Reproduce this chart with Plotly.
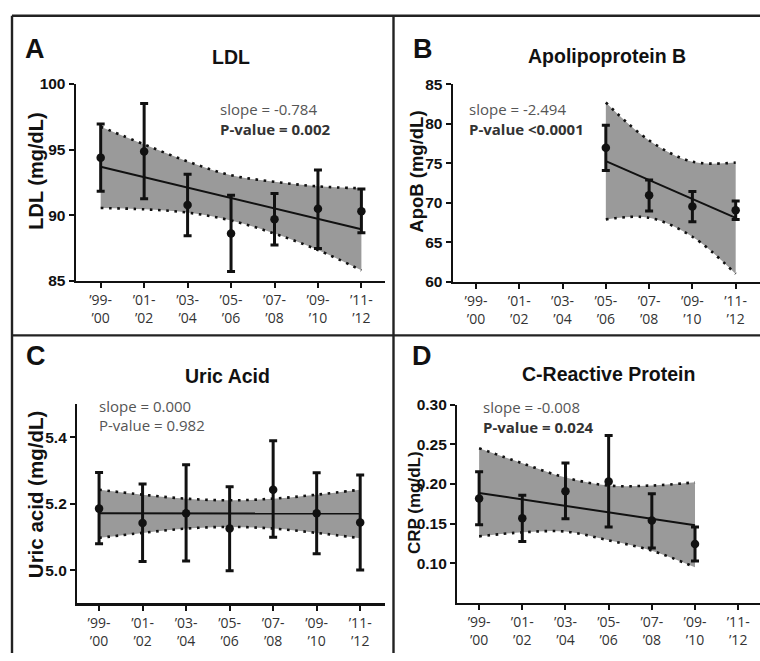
import plotly.graph_objects as go

W, H = 760, 661

# ---------------- data ----------------
cycle_labels = ["’99-<br>’00", "’01-<br>’02", "’03-<br>’04", "’05-<br>’06",
                "’07-<br>’08", "’09-<br>’10", "’11-<br>’12"]
cycle_idx = [0, 1, 2, 3, 4, 5, 6]

# Panel A - LDL (mg/dL)
ldl_x = [0, 1, 2, 3, 4, 5, 6]
ldl_mean = [94.39, 94.86, 90.78, 88.61, 89.70, 90.49, 90.31]
ldl_hi = [96.96, 98.52, 93.13, 91.52, 91.65, 93.45, 91.99]
ldl_lo = [91.82, 91.25, 88.44, 85.72, 87.74, 87.47, 88.66]
ldl_band_hi = [96.75, 95.40, 94.10, 93.05, 92.55, 92.20, 92.05]
ldl_band_lo = [90.55, 90.45, 90.20, 89.60, 88.60, 87.35, 85.80]
ldl_fit_x = [0, 6]
ldl_fit_y = [93.70, 88.93]

# Panel B - ApoB (mg/dL)
apob_x = [3, 4, 5, 6]
apob_mean = [76.97, 70.96, 69.52, 69.07]
apob_hi = [79.81, 72.90, 71.42, 70.22]
apob_lo = [74.09, 68.95, 67.59, 67.88]
apob_band_hi = [82.70, 77.90, 75.20, 75.10]
apob_band_lo = [67.90, 68.10, 65.70, 61.00]
apob_fit_x = [3, 6]
apob_fit_y = [75.28, 68.09]

# Panel C - Uric acid (mg/dL)
uric_x = [0, 1, 2, 3, 4, 5, 6]
uric_mean = [5.185, 5.142, 5.171, 5.125, 5.242, 5.171, 5.143]
uric_hi = [5.294, 5.259, 5.317, 5.251, 5.389, 5.293, 5.286]
uric_lo = [5.079, 5.026, 5.027, 4.998, 5.099, 5.049, 5.000]
uric_band_hi = [5.242, 5.227, 5.215, 5.210, 5.215, 5.227, 5.242]
uric_band_lo = [5.097, 5.112, 5.125, 5.130, 5.125, 5.112, 5.096]
uric_fit_x = [0, 6]
uric_fit_y = [5.171, 5.170]

# Panel D - CRP (mg/dL)
crp_x = [0, 1, 2, 3, 4, 5]
crp_mean = [0.1818, 0.1569, 0.1908, 0.2031, 0.1540, 0.1242]
crp_hi = [0.2153, 0.1859, 0.2264, 0.2611, 0.1875, 0.1458]
crp_lo = [0.1487, 0.1274, 0.1560, 0.1458, 0.1193, 0.1028]
crp_band_hi = [0.245, 0.226, 0.208, 0.198, 0.198, 0.202]
crp_band_lo = [0.134, 0.139, 0.140, 0.129, 0.116, 0.095]
crp_fit_x = [0, 5]
crp_fit_y = [0.1887, 0.1479]

# ---------------- layout helpers ----------------
def px_x(p):
    return p / W

def px_y(p):
    return 1 - p / H

panels = [
    dict(key="", letter="A", title="LDL", ylab="LDL (mg/dL)",
         x=ldl_x, m=ldl_mean, hi=ldl_hi, lo=ldl_lo, bh=ldl_band_hi, bl=ldl_band_lo,
         fx=ldl_fit_x, fy=ldl_fit_y,
         dom=(76, 385, 77, 279), xr=[-0.568, 6.543], yr=[85, 100],
         yt=[85, 90, 95, 100], yfmt="{:.0f}",
         letter_pos=(35, 41), title_pos=(231, 49), ylab_pos=(36, 167), ylab_size=20,
         s1="slope = -0.784", s2="<b>P-value = 0.002</b>", s_pos=(218, 103), p_bold=True),
    dict(key="2", letter="B", title="Apolipoprotein B", ylab="ApoB (mg/dL)",
         x=apob_x, m=apob_mean, hi=apob_hi, lo=apob_lo, bh=apob_band_hi, bl=apob_band_lo,
         fx=apob_fit_x, fy=apob_fit_y,
         dom=(453, 760, 77.3, 280), xr=[-0.531, 6.562], yr=[60, 85],
         yt=[60, 65, 70, 75, 80, 85], yfmt="{:.0f}",
         letter_pos=(423, 41), title_pos=(607, 48), ylab_pos=(417, 167), ylab_size=18.5,
         s1="slope = -2.494", s2="<b>P-value <0.0001</b>", s_pos=(467, 103), p_bold=True),
    dict(key="3", letter="C", title="Uric Acid", ylab="Uric acid (mg/dL)",
         x=uric_x, m=uric_mean, hi=uric_hi, lo=uric_lo, bh=uric_band_hi, bl=uric_band_lo,
         fx=uric_fit_x, fy=uric_fit_y,
         dom=(77.3, 385, 405.4, 610), xr=[-0.5, 6.57], yr=[4.9, 5.5],
         yt=[5.0, 5.2, 5.4], yfmt="{:.1f}",
         letter_pos=(36, 356), title_pos=(227, 377), ylab_pos=(35, 499), ylab_size=20.5,
         s1="slope = 0.000", s2="P-value = 0.982", s_pos=(97, 407), p_bold=False),
    dict(key="4", letter="D", title="C-Reactive Protein", ylab="CRP (mg/dL)",
         x=crp_x, m=crp_mean, hi=crp_hi, lo=crp_lo, bh=crp_band_hi, bl=crp_band_lo,
         fx=crp_fit_x, fy=crp_fit_y,
         dom=(457.3, 760, 406, 609.7), xr=[-0.505, 6.505], yr=[0.05, 0.30],
         yt=[0.10, 0.15, 0.20, 0.25, 0.30], yfmt="{:.2f}",
         letter_pos=(422, 356), title_pos=(608, 375), ylab_pos=(415, 507), ylab_size=17,
         s1="slope = -0.008", s2="<b>P-value = 0.024</b>", s_pos=(481, 409), p_bold=True),
]

BAND = "#9a9a9a"
INK = "#111111"

fig = go.Figure()
annotations = []

for p in panels:
    xa = "x" + p["key"]
    ya = "y" + p["key"]
    # confidence band fill
    fig.add_trace(go.Scatter(x=p["x"], y=p["bh"], xaxis=xa, yaxis=ya, mode="lines",
                             line=dict(width=0, shape="spline"), hoverinfo="skip",
                             showlegend=False))
    fig.add_trace(go.Scatter(x=p["x"], y=p["bl"], xaxis=xa, yaxis=ya, mode="lines",
                             line=dict(width=0, shape="spline"), fill="tonexty",
                             fillcolor=BAND, hoverinfo="skip", showlegend=False))
    # dotted band edges
    for edge in (p["bh"], p["bl"]):
        fig.add_trace(go.Scatter(x=p["x"], y=edge, xaxis=xa, yaxis=ya, mode="lines",
                                 line=dict(width=2.6, color=INK, dash="2.6px,5.6px",
                                           shape="spline"),
                                 hoverinfo="skip", showlegend=False))
    # regression line
    fig.add_trace(go.Scatter(x=p["fx"], y=p["fy"], xaxis=xa, yaxis=ya, mode="lines",
                             line=dict(width=2, color=INK), showlegend=False))
    # means with error bars
    up = [h - m for h, m in zip(p["hi"], p["m"])]
    dn = [m - l for m, l in zip(p["m"], p["lo"])]
    fig.add_trace(go.Scatter(x=p["x"], y=p["m"], xaxis=xa, yaxis=ya, mode="markers",
                             marker=dict(size=8.5, color=INK),
                             error_y=dict(type="data", symmetric=False, array=up,
                                          arrayminus=dn, thickness=3, width=4,
                                          color=INK),
                             showlegend=False))

    x0, x1, yt0, yb0 = p["dom"]
    axis_common = dict(showgrid=False, zeroline=False, showline=True, linewidth=2.4,
                       linecolor=INK, ticks="outside", ticklen=5, tickwidth=2,
                       tickcolor=INK)
    fig.layout["xaxis" + p["key"]] = dict(
        domain=[px_x(x0), px_x(x1)], range=p["xr"], anchor=ya,
        tickmode="array", tickvals=cycle_idx, ticktext=cycle_labels,
        tickfont=dict(family="Open Sans", size=14, color="#333333"),
        **axis_common)
    fig.layout["yaxis" + p["key"]] = dict(
        domain=[px_y(yb0), px_y(yt0)], range=p["yr"], anchor=xa,
        tickmode="array", tickvals=p["yt"],
        ticktext=[p["yfmt"].format(v) for v in p["yt"]],
        tickfont=dict(family="Liberation Sans", size=15.5, color=INK, weight="bold"),
        **axis_common)

    lx, ly = p["letter_pos"]
    annotations.append(dict(text="<b>" + p["letter"] + "</b>", x=px_x(lx), y=px_y(ly),
                            xref="paper", yref="paper", showarrow=False,
                            xanchor="center", yanchor="middle",
                            font=dict(family="Liberation Sans", size=27, color=INK)))
    tx, ty = p["title_pos"]
    annotations.append(dict(text="<b>" + p["title"] + "</b>", x=px_x(tx), y=px_y(ty),
                            xref="paper", yref="paper", showarrow=False,
                            xanchor="center", yanchor="middle",
                            font=dict(family="Liberation Sans", size=19.5, color=INK)))
    yx, yy = p["ylab_pos"]
    annotations.append(dict(text="<b>" + p["ylab"] + "</b>", x=px_x(yx), y=px_y(yy),
                            xref="paper", yref="paper", showarrow=False, textangle=-90,
                            xanchor="center", yanchor="middle",
                            font=dict(family="Liberation Sans", size=p["ylab_size"],
                                      color=INK)))
    sx, sy = p["s_pos"]
    annotations.append(dict(text=p["s1"], x=px_x(sx), y=px_y(sy), xref="paper",
                            yref="paper", showarrow=False, xanchor="left",
                            yanchor="middle",
                            font=dict(family="Open Sans", size=15, color="#555555")))
    annotations.append(dict(text=p["s2"], x=px_x(sx), y=px_y(sy + 20), xref="paper",
                            yref="paper", showarrow=False, xanchor="left",
                            yanchor="middle",
                            font=dict(family="Open Sans", size=15,
                                      color="#333333" if p["p_bold"] else "#555555")))

border = dict(color="#222222", width=2.4)
shapes = [
    dict(type="line", xref="paper", yref="paper", x0=px_x(12), x1=1, y0=px_y(7), y1=px_y(7), line=border),
    dict(type="line", xref="paper", yref="paper", x0=px_x(12), x1=px_x(12), y0=px_y(7), y1=0, line=border),
    dict(type="line", xref="paper", yref="paper", x0=px_x(393.5), x1=px_x(393.5), y0=px_y(7), y1=0, line=border),
    dict(type="line", xref="paper", yref="paper", x0=px_x(12), x1=1, y0=px_y(335), y1=px_y(335), line=border),
]

fig.update_layout(width=W, height=H, autosize=False,
                  margin=dict(l=0, r=0, t=0, b=0),
                  paper_bgcolor="white", plot_bgcolor="white",
                  showlegend=False, annotations=annotations, shapes=shapes)

pin_page = ("document.body.style.margin='0px';document.body.style.padding='0px';"
            "document.body.style.overflow='hidden';"
            "var d=document.getElementById('{plot_id}');"
            "d.style.position='absolute';d.style.left='0px';d.style.top='0px';")

fig.write_html("out.html", post_script=pin_page,
               config={"displayModeBar": False, "staticPlot": True})
